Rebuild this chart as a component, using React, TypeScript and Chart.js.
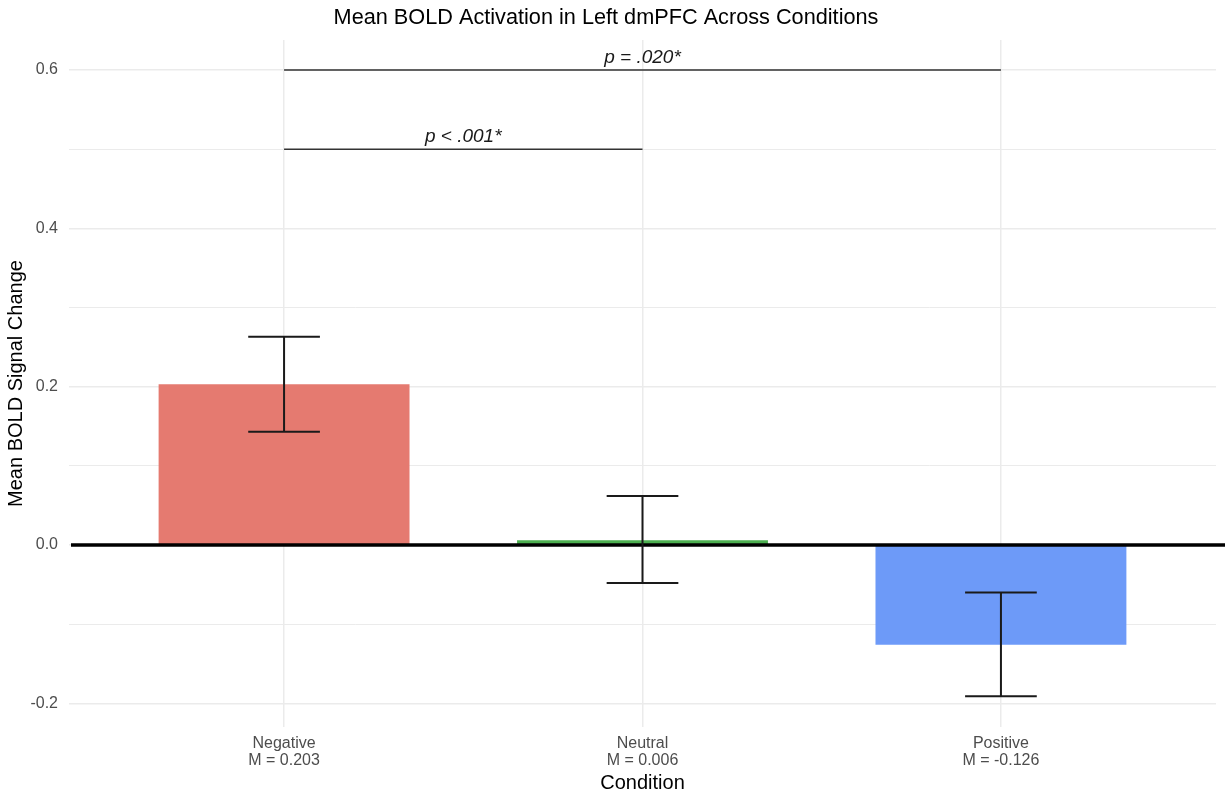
import React, { useEffect, useRef } from "react";
import { Chart, registerables } from "chart.js";

Chart.register(...registerables);

// ---- data ----
const categories = ["Negative", "Neutral", "Positive"];
const meanLabels = ["M = 0.203", "M = 0.006", "M = -0.126"];
const means = [0.203, 0.006, -0.126];
const errLow = [0.143, -0.048, -0.191];
const errHigh = [0.263, 0.062, -0.06];
const barColors = ["#E57A70", "#4CAF50", "#6D9AF8"];
const yTickValues = [-0.2, -0.1, 0.0, 0.1, 0.2, 0.3, 0.4, 0.5, 0.6];
const sigFrom = [1, 1];
const sigTo = [3, 2];
const sigLevel = [0.6, 0.5];
const sigText = ["p = .020*", "p < .001*"];

const TITLE = "Mean BOLD Activation in Left dmPFC Across Conditions";
const FONT = "'Liberation Sans', Arial, Helvetica, sans-serif";

const isMajor = (v: number) => Math.abs(Math.round(v * 10)) % 2 === 0;

const overlayPlugin = {
  id: "overlay",
  afterDatasetsDraw(chart: any) {
    const { ctx, chartArea, scales } = chart;
    const xs = scales.x;
    const ys = scales.y;
    ctx.save();
    // zero reference line
    const y0 = ys.getPixelForValue(0);
    ctx.strokeStyle = "#000000";
    ctx.lineWidth = 3.5;
    ctx.beginPath();
    ctx.moveTo(chartArea.left + 2, y0);
    ctx.lineTo(chart.width, y0);
    ctx.stroke();

    // error bars
    ctx.strokeStyle = "#1a1a1a";
    ctx.lineWidth = 2;
    const capHalf = 0.1;
    for (let i = 0; i < means.length; i++) {
      const xc = xs.getPixelForValue(i + 1);
      const xl = xs.getPixelForValue(i + 1 - capHalf);
      const xr = xs.getPixelForValue(i + 1 + capHalf);
      const yl = ys.getPixelForValue(errLow[i]);
      const yh = ys.getPixelForValue(errHigh[i]);
      ctx.beginPath();
      ctx.moveTo(xc, yl);
      ctx.lineTo(xc, yh);
      ctx.moveTo(xl, yl);
      ctx.lineTo(xr, yl);
      ctx.moveTo(xl, yh);
      ctx.lineTo(xr, yh);
      ctx.stroke();
    }

    // significance brackets
    ctx.strokeStyle = "#333333";
    ctx.lineWidth = 1.5;
    ctx.fillStyle = "#1a1a1a";
    ctx.font = `italic 19px ${FONT}`;
    ctx.textAlign = "center";
    ctx.textBaseline = "alphabetic";
    for (let i = 0; i < sigText.length; i++) {
      const x1 = xs.getPixelForValue(sigFrom[i]);
      const x2 = xs.getPixelForValue(sigTo[i]);
      const y = ys.getPixelForValue(sigLevel[i]);
      ctx.beginPath();
      ctx.moveTo(x1, y);
      ctx.lineTo(x2, y);
      ctx.stroke();
      ctx.fillText(sigText[i], (x1 + x2) / 2, y - 7);
    }

    // title
    ctx.fillStyle = "#000000";
    ctx.font = `21.7px ${FONT}`;
    ctx.textAlign = "center";
    ctx.fillText(TITLE, 606, 24);
    ctx.restore();
  },
};

export default function App() {
  const ref = useRef<HTMLCanvasElement>(null);

  useEffect(() => {
    if (!ref.current) return;
    const chart = new Chart(ref.current, {
      type: "bar",
      data: {
        datasets: [
          {
            data: categories.map((c, i) => ({ x: i + 1, y: means[i] })) as any,
            backgroundColor: barColors,
            borderWidth: 0,
            barPercentage: 0.7,
            categoryPercentage: 1,
          },
        ],
      },
      options: {
        responsive: false,
        animation: false,
        layout: { padding: { top: 40, right: 9, left: 0, bottom: 0 } },
        plugins: {
          legend: { display: false },
          title: { display: false },
          tooltip: { enabled: false },
        },
        scales: {
          x: {
            type: "linear",
            min: 0.4,
            max: 3.6,
            offset: false,
            afterBuildTicks: (scale: any) => {
              scale.ticks = categories.map((_, i) => ({ value: i + 1 }));
            },
            afterFit: (scale: any) => {
              scale.height = 69;
            },
            ticks: {
              padding: 8,
              color: "#4d4d4d",
              font: { family: FONT, size: 16, lineHeight: 1.07 },
              callback: (v: any) => {
                const i = Math.round(Number(v)) - 1;
                return [categories[i], meanLabels[i]];
              },
            },
            grid: { color: "#ebebeb", lineWidth: 1.5, drawTicks: false, offset: false },
            border: { display: false },
            title: {
              display: true,
              text: "Condition",
              color: "#000000",
              font: { family: FONT, size: 20, lineHeight: 1.2 },
              padding: { top: 0, bottom: 1 },
            },
          },
          y: {
            type: "linear",
            min: -0.23,
            max: 0.638,
            afterBuildTicks: (scale: any) => {
              scale.ticks = yTickValues.map((v) => ({ value: v }));
            },
            afterFit: (scale: any) => {
              scale.width = 69;
            },
            ticks: {
              padding: 11,
              color: "#4d4d4d",
              font: { family: FONT, size: 16 },
              callback: (v: any) => {
                const n = Number(v);
                if (!isMajor(n)) return "";
                const s = (Math.round(n * 10) / 10).toFixed(1);
                return s === "-0.0" ? "0.0" : s;
              },
            },
            grid: {
              color: "#ebebeb",
              lineWidth: (c: any) => (c.tick && isMajor(c.tick.value) ? 1.5 : 1),
              drawTicks: false,
            },
            border: { display: false },
            title: {
              display: true,
              text: "Mean BOLD Signal Change",
              color: "#000000",
              font: { family: FONT, size: 20, lineHeight: 1.2 },
              padding: { top: 4, bottom: 0 },
            },
          },
        },
      },
      plugins: [overlayPlugin],
    });
    return () => chart.destroy();
  }, []);

  return (
    <div style={{ position: "absolute", left: 0, top: 0, width: 1225, height: 796, background: "#ffffff" }}>
      <canvas ref={ref} width={1225} height={796} style={{ display: "block" }} />
    </div>
  );
}
